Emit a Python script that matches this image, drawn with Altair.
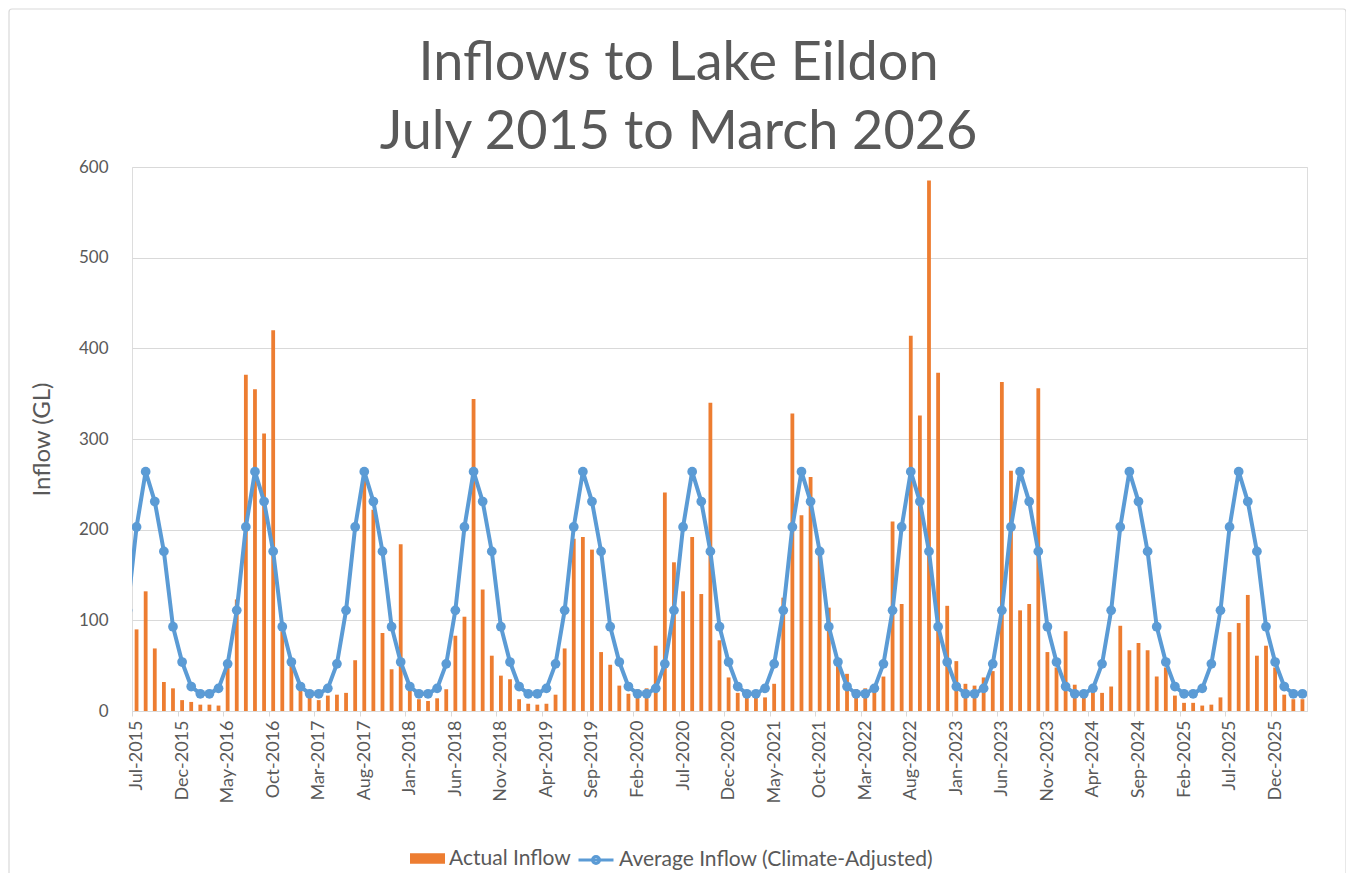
import altair as alt
import pandas as pd

# Monthly actual inflow (GL), Jul-2015 .. Mar-2026
actual_2015 = [90, 132, 69, 32, 25, 12]
actual_2016 = [10, 7, 7, 6, 48, 123, 371, 355, 306, 420, 88, 50]
actual_2017 = [25, 15, 12, 17, 18, 20, 56, 255, 222, 86, 46, 184]
actual_2018 = [23, 13, 11, 14, 24, 83, 104, 344, 134, 61, 39, 35]
actual_2019 = [13, 8, 7, 8, 18, 69, 190, 192, 178, 65, 51, 28]
actual_2020 = [19, 24, 25, 72, 241, 164, 132, 192, 129, 340, 78, 37]
actual_2021 = [20, 23, 20, 15, 30, 125, 328, 216, 258, 180, 114, 54]
actual_2022 = [41, 24, 25, 24, 38, 209, 118, 414, 326, 585, 373, 116]
actual_2023 = [55, 30, 28, 37, 44, 363, 265, 111, 118, 356, 65, 48]
actual_2024 = [88, 29, 17, 24, 20, 27, 94, 67, 75, 67, 38, 48]
actual_2025 = [17, 9, 9, 6, 7, 15, 87, 97, 128, 61, 72, 48]
actual_2026 = [18, 13, 13]

# Climate-adjusted average inflow by calendar month (Jan..Dec)
avg_by_month = {1: 27, 2: 19, 3: 19, 4: 25, 5: 52, 6: 111,
                7: 203, 8: 264, 9: 231, 10: 176, 11: 93, 12: 54}

tick_labels = ["Jul-2015", "Dec-2015", "May-2016", "Oct-2016", "Mar-2017", "Aug-2017",
               "Jan-2018", "Jun-2018", "Nov-2018", "Apr-2019", "Sep-2019", "Feb-2020",
               "Jul-2020", "Dec-2020", "May-2021", "Oct-2021", "Mar-2022", "Aug-2022",
               "Jan-2023", "Jun-2023", "Nov-2023", "Apr-2024", "Sep-2024", "Feb-2025",
               "Jul-2025", "Dec-2025"]

actual = (actual_2015 + actual_2016 + actual_2017 + actual_2018 + actual_2019 + actual_2020
          + actual_2021 + actual_2022 + actual_2023 + actual_2024 + actual_2025 + actual_2026)

ORANGE = "#ed7d31"
BLUE = "#5b9bd5"
GREY = "#595959"
LIGHT = "#d9d9d9"
FONT = "Lato"

bars_df = pd.DataFrame({
    "idx": list(range(len(actual))),
    "inflow": actual,
    "series": ["Actual Inflow"] * len(actual),
})

# line starts one month earlier (Jun-2015), clipped at the plot edge
line_idx = list(range(-1, len(actual)))
line_month = [((6 + i) % 12) + 1 for i in line_idx]  # idx 0 -> July
line_df = pd.DataFrame({
    "idx": line_idx,
    "avg": [avg_by_month[m] for m in line_month],
    "series": ["Average Inflow (Climate-Adjusted)"] * len(line_idx),
})

label_expr = "[" + ",".join("'" + t + "'" for t in tick_labels) + "][round(datum.value / 5)]"

x_scale = alt.Scale(domain=[-0.5, len(actual) - 0.5], nice=False, zero=False, padding=0)
y_scale = alt.Scale(domain=[0, 600], nice=False)

x_axis = alt.Axis(values=list(range(0, 130, 5)), labelExpr=label_expr, labelAngle=-90,
                  labelFont=FONT, labelFontSize=18, labelColor=GREY, labelPadding=4,
                  tickColor=LIGHT, tickSize=5, tickOffset=-4.5, labelOffset=4.5,
                  domainColor=LIGHT, grid=False, title=None)
y_axis = alt.Axis(values=list(range(0, 700, 100)), labelFont=FONT, labelFontSize=17,
                  labelColor=GREY, labelPadding=24, ticks=False, tickSize=0, domain=False,
                  gridColor=LIGHT, gridWidth=1, title="Inflow (GL)", titleFont=FONT,
                  titleFontSize=24, titleColor=GREY, titleFontWeight="normal", titlePadding=24)

bar_path = "M-1,-0.3H1V0.3H-1Z"
line_path = "M-1,0H1M0.2,0A0.2,0.2,0,1,1,-0.2,0A0.2,0.2,0,1,1,0.2,0Z"

bars = alt.Chart(bars_df).mark_bar(size=3.8).encode(
    x=alt.X("idx:Q", scale=x_scale, axis=x_axis),
    y=alt.Y("inflow:Q", scale=y_scale, axis=y_axis),
    color=alt.Color("series:N", scale=alt.Scale(domain=["Actual Inflow"], range=[ORANGE]),
                    legend=alt.Legend(orient="none", legendX=278, legendY=674, title=None,
                                      symbolType=bar_path, symbolSize=1225,
                                      symbolStrokeWidth=0, labelFont=FONT, labelFontSize=21,
                                      labelColor=GREY, labelOffset=4, labelLimit=0)),
)

line = alt.Chart(line_df).mark_line(strokeWidth=4, clip=True).encode(
    x=alt.X("idx:Q", scale=x_scale),
    y=alt.Y("avg:Q", scale=y_scale),
    color=alt.Color("series:N",
                    scale=alt.Scale(domain=["Average Inflow (Climate-Adjusted)"], range=[BLUE]),
                    legend=alt.Legend(orient="none", legendX=445, legendY=674, title=None,
                                      symbolType=line_path, symbolSize=1225,
                                      symbolStrokeWidth=3, labelFont=FONT, labelFontSize=21,
                                      labelColor=GREY, labelOffset=4, labelLimit=0)),
)

points = alt.Chart(line_df).mark_point(filled=True, size=95, opacity=1, color=BLUE, clip=True).encode(
    x=alt.X("idx:Q", scale=x_scale),
    y=alt.Y("avg:Q", scale=y_scale),
)

# thin chart-area frame (decoration)
frame = alt.Chart(pd.DataFrame({"k": [0]})).mark_rect(
    filled=False, stroke=LIGHT, strokeWidth=1.2, cornerRadius=3
).encode(x=alt.value(-123), x2=alt.value(1214), y=alt.value(-158), y2=alt.value(740))

chart = alt.layer(frame, bars, line, points).resolve_scale(color="independent").properties(
    width=1175,
    height=544,
    autosize=alt.AutoSizeParams(type="none"),
    padding={"left": 124, "top": 159, "right": 39, "bottom": 162},
    title=alt.TitleParams(text=["Inflows to Lake Eildon", "July 2015 to March 2026"],
                          font=FONT, fontSize=54, fontWeight="normal", color=GREY,
                          anchor="middle", dx=-41, offset=-152, lineHeight=69),
).configure_view(strokeWidth=0).configure(background="white")

chart.save("out.html", embed_options={"renderer": "svg", "actions": False})
